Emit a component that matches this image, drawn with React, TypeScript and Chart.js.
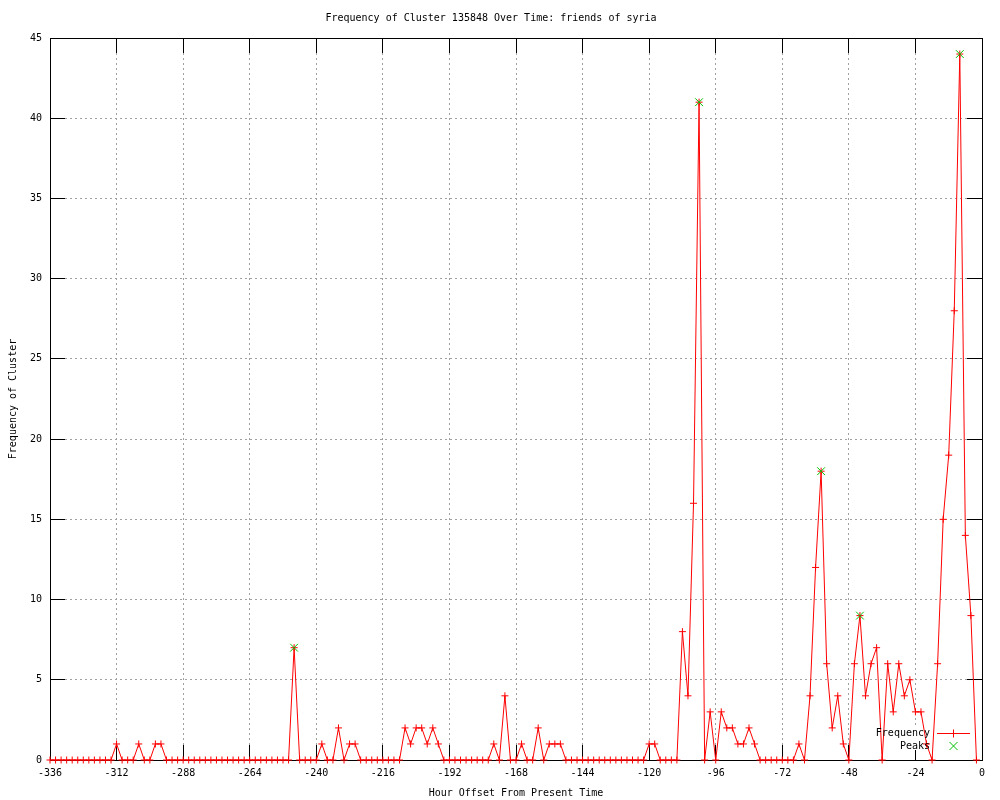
import React, { useEffect, useRef } from "react";
import { Chart, registerables } from "chart.js";

Chart.register(...registerables);

const TITLE = "Frequency of Cluster 135848 Over Time: friends of syria";
const X_TITLE = "Hour Offset From Present Time";
const Y_TITLE = "Frequency of Cluster";
const SERIES_LABEL = "Frequency";
const PEAK_LABEL = "Peaks";

const START_HOUR = -336;
const STEP_HOURS = 2;

// one value every 2 hours, from -336 to -2
const frequency = [
  0, 0, 0, 0, 0, 0, 0, 0, 0, 0, 0, 0, // -336..-314
  1, 0, 0, 0, 1, 0, 0, 1, 1, 0, 0, 0, // -312..-290
  0, 0, 0, 0, 0, 0, 0, 0, 0, 0, 0, 0, // -288..-266
  0, 0, 0, 0, 0, 0, 0, 0, 7, 0, 0, 0, // -264..-242
  0, 1, 0, 0, 2, 0, 1, 1, 0, 0, 0, 0, // -240..-218
  0, 0, 0, 0, 2, 1, 2, 2, 1, 2, 1, 0, // -216..-194
  0, 0, 0, 0, 0, 0, 0, 0, 1, 0, 4, 0, // -192..-170
  0, 1, 0, 0, 2, 0, 1, 1, 1, 0, 0, 0, // -168..-146
  0, 0, 0, 0, 0, 0, 0, 0, 0, 0, 0, 0, // -144..-122
  1, 1, 0, 0, 0, 0, 8, 4, 16, 41, 0, 3, // -120..-98
  0, 3, 2, 2, 1, 1, 2, 1, 0, 0, 0, 0, // -96..-74
  0, 0, 0, 1, 0, 4, 12, 18, 6, 2, 4, 1, // -72..-50
  0, 6, 9, 4, 6, 7, 0, 6, 3, 6, 4, 5, // -48..-26
  3, 3, 1, 0, 6, 15, 19, 28, 44, 14, 9, 0, // -24..-2
];

const peakHours = [-248, -102, -58, -44, -8];
const peakValues = [7, 41, 18, 9, 44];

const xTicks = [-336, -312, -288, -264, -240, -216, -192, -168, -144, -120, -96, -72, -48, -24, 0];
const yTicks = [0, 5, 10, 15, 20, 25, 30, 35, 40, 45];

const FONT = "'DejaVu Sans Mono', 'Liberation Mono', monospace";
const RED = "#ff0000";
const GREEN = "#00c000";

const align = (p: number) => Math.round(p + 0.5) - 0.5;

const gnuplotFrame = {
  id: "gnuplotFrame",
  beforeDatasetsDraw(chart: any) {
    const { ctx, chartArea: a, scales } = chart;
    const xs = scales.x;
    const ys = scales.y;
    const TL = 15;
    ctx.save();
    ctx.strokeStyle = "#000";
    ctx.lineWidth = 1;
    ctx.setLineDash([]);
    ctx.beginPath();
    for (const v of xTicks) {
      const px = align(xs.getPixelForValue(v));
      ctx.moveTo(px, a.bottom);
      ctx.lineTo(px, a.bottom - TL);
      ctx.moveTo(px, a.top);
      ctx.lineTo(px, a.top + TL);
    }
    for (const v of yTicks) {
      const py = align(ys.getPixelForValue(v));
      ctx.moveTo(a.left, py);
      ctx.lineTo(a.left + TL, py);
      ctx.moveTo(a.right, py);
      ctx.lineTo(a.right - TL, py);
    }
    ctx.stroke();
    const l = align(a.left), t = align(a.top), r = align(a.right), b = align(a.bottom);
    ctx.strokeRect(l, t, r - l, b - t);
    // opaque key box
    ctx.fillStyle = "#fff";
    ctx.fillRect(a.right - 108, a.bottom - 35, 102, 25);
    ctx.restore();
  },
  afterDatasetsDraw(chart: any) {
    const { ctx, chartArea: a } = chart;
    const ds = chart.data.datasets;
    ctx.save();
    ctx.font = `10px ${FONT}`;
    ctx.fillStyle = "#000";
    ctx.textAlign = "right";
    ctx.textBaseline = "middle";
    const tx = a.right - 52;
    const y1 = a.bottom - 27;
    const y2 = a.bottom - 14;
    ctx.fillText(ds[0].label, tx, y1);
    ctx.fillText(ds[1].label, tx, y2);
    const mx = a.right - 28.5;
    ctx.lineWidth = 1;
    ctx.strokeStyle = RED;
    ctx.beginPath();
    ctx.moveTo(a.right - 45, y1 + 0.5);
    ctx.lineTo(a.right - 12, y1 + 0.5);
    ctx.moveTo(mx, y1 - 3.5);
    ctx.lineTo(mx, y1 + 4.5);
    ctx.stroke();
    ctx.strokeStyle = GREEN;
    ctx.beginPath();
    ctx.moveTo(mx - 4, y2 - 4);
    ctx.lineTo(mx + 4, y2 + 4);
    ctx.moveTo(mx + 4, y2 - 4);
    ctx.lineTo(mx - 4, y2 + 4);
    ctx.stroke();
    ctx.restore();
  },
};

export default function App() {
  const canvasRef = useRef<HTMLCanvasElement | null>(null);

  useEffect(() => {
    const canvas = canvasRef.current;
    if (!canvas) return;
    const seriesPoints = frequency.map((v, i) => ({ x: START_HOUR + i * STEP_HOURS, y: v }));
    const peakPoints = peakHours.map((h, i) => ({ x: h, y: peakValues[i] }));

    const chart = new Chart(canvas, {
      type: "line",
      data: {
        datasets: [
          {
            label: SERIES_LABEL,
            data: seriesPoints,
            borderColor: RED,
            backgroundColor: RED,
            borderWidth: 1,
            tension: 0,
            pointStyle: "cross",
            pointRadius: 3.5,
            pointBorderWidth: 1,
            pointBorderColor: RED,
            pointHoverRadius: 3.5,
            clip: 8,
            order: 2,
          },
          {
            label: PEAK_LABEL,
            data: peakPoints,
            showLine: false,
            borderColor: GREEN,
            backgroundColor: GREEN,
            borderWidth: 1,
            pointStyle: "crossRot",
            pointRadius: 5.5,
            pointBorderWidth: 1,
            pointBorderColor: GREEN,
            clip: 8,
            order: 1,
          },
        ],
      },
      options: {
        responsive: false,
        animation: false,
        events: [],
        layout: { padding: { left: 0, right: 18, top: 0, bottom: 0 } },
        plugins: {
          legend: { display: false },
          tooltip: { enabled: false },
          title: {
            display: true,
            text: TITLE,
            color: "#000",
            font: { family: FONT, size: 10, weight: "normal", lineHeight: 1.2 },
            padding: { top: 12, bottom: 14 },
          },
        },
        scales: {
          x: {
            type: "linear",
            min: -336,
            max: 0,
            afterBuildTicks: (s: any) => {
              s.ticks = xTicks.map((v) => ({ value: v }));
            },
            afterFit: (s: any) => {
              s.height = 40;
            },
            ticks: {
              color: "#000",
              font: { family: FONT, size: 10, lineHeight: 1.2 },
              padding: 7,
              maxRotation: 0,
              autoSkip: false,
            },
            grid: {
              color: "#a0a0a0",
              lineWidth: 1,
              drawTicks: false,
            },
            border: { display: false, dash: [2, 3] },
            title: {
              display: true,
              text: X_TITLE,
              color: "#000",
              font: { family: FONT, size: 10, lineHeight: 1.2 },
              padding: { top: 0, bottom: 1 },
            },
          },
          y: {
            type: "linear",
            min: 0,
            max: 45,
            afterBuildTicks: (s: any) => {
              s.ticks = yTicks.map((v) => ({ value: v }));
            },
            afterFit: (s: any) => {
              s.width = 50;
            },
            ticks: {
              color: "#000",
              font: { family: FONT, size: 10, lineHeight: 1.2 },
              padding: 8,
              autoSkip: false,
            },
            grid: {
              color: "#a0a0a0",
              lineWidth: 1,
              drawTicks: false,
            },
            border: { display: false, dash: [2, 3] },
            title: {
              display: true,
              text: Y_TITLE,
              color: "#000",
              font: { family: FONT, size: 10, lineHeight: 1.2 },
              padding: { top: 7, bottom: 0 },
            },
          },
        },
      },
      plugins: [gnuplotFrame],
    });

    return () => {
      chart.destroy();
    };
  }, []);

  return (
    <div style={{ position: "fixed", left: 0, top: 0, width: 1000, height: 800, background: "#fff" }}>
      <canvas ref={canvasRef} width={1000} height={800} style={{ display: "block" }} />
    </div>
  );
}
